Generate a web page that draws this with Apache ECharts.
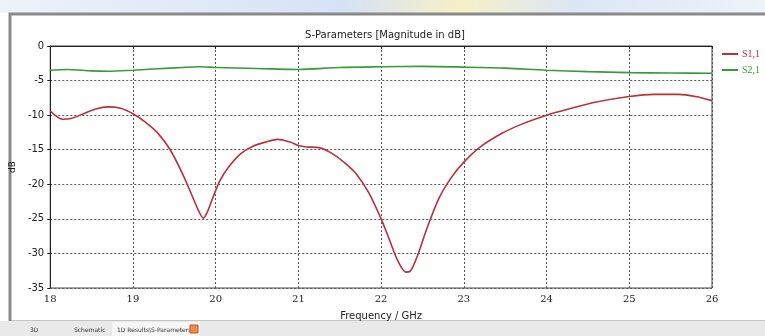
<!DOCTYPE html>
<html>
<head>
<meta charset="utf-8">
<script src="https://cdn.jsdelivr.net/npm/echarts@6/dist/echarts.min.js"></script>
<style>
  html, body { margin: 0; padding: 0; background: #fff; }
  #chart { width: 765px; height: 336px; }
</style>
</head>
<body>
<div id="chart"></div>
<script>
// S-Parameter Kurven
var freqS11 = [18.0, 18.08, 18.15, 18.25, 18.4, 18.55, 18.7, 18.85, 19.0, 19.15, 19.3, 19.45, 19.6, 19.72, 19.8, 19.85, 19.9, 19.97, 20.05, 20.15, 20.3, 20.45, 20.6, 20.75, 20.9, 21.0, 21.1, 21.25, 21.4, 21.55, 21.7, 21.85, 22.0, 22.1, 22.2, 22.3, 22.35, 22.45, 22.55, 22.7, 22.85, 23.0, 23.2, 23.45, 23.7, 24.0, 24.3, 24.6, 25.0, 25.3, 25.6, 25.8, 26.0];
var valS11 = [-9.4, -10.2, -10.6, -10.5, -9.8, -9.1, -8.8, -9.0, -9.8, -11.0, -12.6, -15.0, -18.5, -21.8, -24.0, -24.9, -24.0, -21.8, -19.5, -17.6, -15.6, -14.5, -13.9, -13.5, -13.9, -14.4, -14.6, -14.7, -15.5, -16.8, -18.5, -21.2, -25.0, -28.0, -31.0, -32.7, -32.6, -30.0, -26.5, -22.0, -19.0, -16.8, -14.6, -12.7, -11.3, -10.0, -9.0, -8.1, -7.3, -7.0, -7.0, -7.3, -7.9];

var freqS21 = [18.0, 18.2, 18.5, 18.7, 19.0, 19.3, 19.6, 19.8, 20.0, 20.5, 21.0, 21.5, 22.0, 22.5, 23.0, 23.5, 24.0, 24.5, 25.0, 25.5, 26.0];
var valS21 = [-3.5, -3.4, -3.6, -3.65, -3.5, -3.3, -3.1, -3.0, -3.1, -3.25, -3.4, -3.1, -3.0, -2.95, -3.05, -3.2, -3.5, -3.7, -3.85, -3.9, -3.95];

var seriesNames = ['S1,1', 'S2,1'];
var seriesColors = ['#b8323a', '#3a9a3a'];

function pairs(xs, ys) {
  var out = [];
  for (var i = 0; i < xs.length; i++) {
    out.push([xs[i], ys[i]]);
  }
  return out;
}

var myChart = echarts.init(document.getElementById('chart'));
var font = 'DejaVu Sans';

var option = {
  animation: false,
  backgroundColor: '#fff',
  title: {
    text: 'S-Parameters [Magnitude in dB]',
    left: 380,
    top: 25,
    textAlign: 'center',
    textStyle: { fontFamily: font, fontSize: 10, fontWeight: 'normal', color: '#222' }
  },
  legend: {
    orient: 'vertical',
    left: 722,
    top: 49,
    itemWidth: 16,
    itemHeight: 2,
    itemGap: 6,
    padding: 0,
    icon: 'rect',
    data: seriesNames.map(function (n, i) {
      return { name: n, textStyle: { color: seriesColors[i] } };
    }),
    textStyle: { fontFamily: 'Liberation Serif', fontSize: 10, padding: [0, 0, 0, -1] }
  },
  grid: {
    left: 49,
    right: 53,
    top: 46,
    bottom: 48,
    show: true,
    borderColor: '#444',
    borderWidth: 1,
    backgroundColor: '#fff'
  },
  xAxis: {
    type: 'value',
    min: 18,
    max: 26,
    interval: 1,
    name: 'Frequency / GHz',
    nameLocation: 'middle',
    nameGap: 23,
    nameTextStyle: { fontFamily: font, fontSize: 10, color: '#222' },
    axisLine: { lineStyle: { color: '#222' } },
    axisTick: { inside: false, length: 3, lineStyle: { color: '#222' } },
    axisLabel: { fontFamily: 'DejaVu Serif', fontSize: 10, color: '#222', margin: 6 },
    splitLine: { lineStyle: { color: '#555', type: [2, 2] } }
  },
  yAxis: {
    type: 'value',
    min: -35,
    max: 0,
    interval: 5,
    name: 'dB',
    nameLocation: 'middle',
    nameGap: 24,
    nameTextStyle: { fontFamily: font, fontSize: 9, color: '#222' },
    axisLine: { show: true, lineStyle: { color: '#222' } },
    axisTick: { show: true, length: 3, lineStyle: { color: '#222' } },
    axisLabel: { fontFamily: font, fontSize: 10, color: '#222', margin: 6 },
    splitLine: { lineStyle: { color: '#555', type: [2, 2] } }
  },
  series: [
    {
      name: seriesNames[0],
      type: 'line',
      smooth: 0.3,
      showSymbol: false,
      lineStyle: { width: 1.6, color: seriesColors[0] },
      itemStyle: { color: seriesColors[0] },
      data: pairs(freqS11, valS11)
    },
    {
      name: seriesNames[1],
      type: 'line',
      smooth: 0.3,
      showSymbol: false,
      lineStyle: { width: 1.6, color: seriesColors[1] },
      itemStyle: { color: seriesColors[1] },
      data: pairs(freqS21, valS21)
    }
  ],
  graphic: [
    // hintergrund oben
    {
      type: 'rect', z: -10, silent: true,
      shape: { x: 0, y: 0, width: 765, height: 13 },
      style: {
        fill: new echarts.graphic.LinearGradient(0, 0, 1, 0, [
          { offset: 0, color: '#eef2fa' },
          { offset: 0.45, color: '#d6e2f6' },
          { offset: 0.6, color: '#f6f0c8' },
          { offset: 0.75, color: '#dce6f6' },
          { offset: 1, color: '#eef2fa' }
        ])
      }
    },
    // rahmen
    {
      type: 'rect', z: -5, silent: true,
      shape: { x: 10, y: 14, width: 760, height: 308 },
      style: { fill: 'none', stroke: '#8a8a8a', lineWidth: 3 }
    },
    // tab leiste
    {
      type: 'rect', z: 10, silent: true,
      shape: { x: 0, y: 321, width: 765, height: 15 },
      style: { fill: '#e9e9e9' }
    },
    {
      type: 'rect', z: 11, silent: true,
      shape: { x: 112, y: 322, width: 88, height: 14 },
      style: { fill: '#f6f6f6' }
    },
    {
      type: 'text', z: 12, silent: true, left: 30, top: 327,
      style: { text: '3D', fontFamily: font, fontSize: 6, fill: '#333' }
    },
    {
      type: 'text', z: 12, silent: true, left: 74, top: 327,
      style: { text: 'Schematic', fontFamily: font, fontSize: 6, fill: '#333' }
    },
    {
      type: 'text', z: 12, silent: true, left: 117, top: 327,
      style: { text: '1D Results\\S-Parameters', fontFamily: font, fontSize: 6, fill: '#333' }
    },
    {
      type: 'rect', z: 12, silent: true,
      shape: { x: 190, y: 325, width: 8, height: 8 },
      style: { fill: '#f08a50', stroke: '#c05a20', lineWidth: 1 }
    }
  ]
};

myChart.setOption(option);
</script>
</body>
</html>
